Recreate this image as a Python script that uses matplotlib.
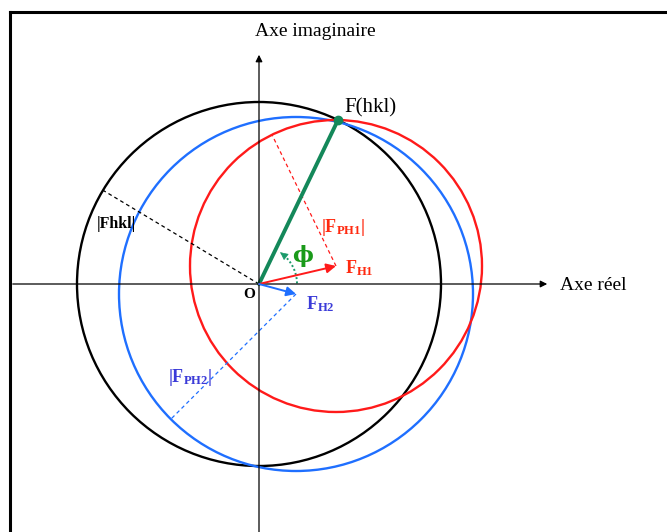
import matplotlib
matplotlib.use("Agg")
import matplotlib.pyplot as plt
from matplotlib.patches import Circle, FancyArrowPatch
import numpy as np

plt.rcParams['font.family'] = ['Liberation Serif', 'DejaVu Serif']
plt.rcParams['mathtext.fontset'] = 'custom'
plt.rcParams['mathtext.rm'] = 'Liberation Serif'
plt.rcParams['mathtext.bf'] = 'Liberation Serif:bold'

# vecteurs (coordonnees dans le plan complexe, origine O)
F_hkl = np.array([79, 164])
F_H1 = np.array([77, 18])
F_H2 = np.array([37, -10])

# rayons des cercles
r_Fhkl = 182
r_FPH1 = 146
r_FPH2 = 177

# angles (degres) des rayons en pointille
ang_Fhkl = 149
ang_FPH1 = 116
ang_FPH2 = 225

noir = 'black'
rouge = '#ff1a1a'
bleu = '#1f6fff'
vert = '#14885a'

fig = plt.figure(figsize=(6.67, 5.32), dpi=100)
ax = fig.add_axes([0, 0, 1, 1])
ax.set_xlim(-259, 408)
ax.set_ylim(-248, 284)
ax.set_aspect('equal')
ax.axis('off')

# cadre
ax.plot([-249, -249], [-260, 272], color='black', lw=2.2, solid_capstyle='projecting')
ax.plot([-249, 420], [272, 272], color='black', lw=2.2, solid_capstyle='projecting')

# axes
ax.annotate('', xy=(291, 0), xytext=(-249, 0),
            arrowprops=dict(arrowstyle='-|>', color='black', lw=0.9, mutation_scale=10))
ax.annotate('', xy=(0, 232), xytext=(0, -260),
            arrowprops=dict(arrowstyle='-|>', color='black', lw=0.9, mutation_scale=10))
ax.text(56, 252, 'Axe imaginaire', fontsize=14, ha='center', va='center')
ax.text(301, -1, 'Axe réel', fontsize=14, ha='left', va='center')

# cercles
ax.add_patch(Circle((0, 0), r_Fhkl, fill=False, color=noir, lw=1.7))
ax.add_patch(Circle(F_H2, r_FPH2, fill=False, color=bleu, lw=1.7))
ax.add_patch(Circle(F_H1, r_FPH1, fill=False, color=rouge, lw=1.7))

# rayons en pointille
def rayon(c, r, a, col):
    a = np.radians(a)
    ax.plot([c[0], c[0] + r * np.cos(a)], [c[1], c[1] + r * np.sin(a)],
            color=col, lw=0.9, ls=(0, (3, 2.5)))

rayon((0, 0), r_Fhkl, ang_Fhkl, noir)
rayon(F_H1, r_FPH1, ang_FPH1, rouge)
rayon(F_H2, r_FPH2, ang_FPH2, bleu)

# vecteurs F_H1, F_H2
for v, col in [(F_H1, rouge), (F_H2, bleu)]:
    ax.annotate('', xy=v, xytext=(0, 0),
                arrowprops=dict(arrowstyle='-|>', color=col, lw=1.4,
                                mutation_scale=14, shrinkA=0, shrinkB=0))

# F(hkl)
ax.plot([0, F_hkl[0]], [0, F_hkl[1]], color=vert, lw=2.8, solid_capstyle='round')
ax.plot(F_hkl[0], F_hkl[1], 'o', color=vert, ms=6)
ax.text(85, 176, 'F(hkl)', fontsize=15, ha='left', va='center')

# angle phi
phi = np.degrees(np.arctan2(F_hkl[1], F_hkl[0]))
t = np.radians(np.linspace(1, phi - 6, 60))
ax.plot(38 * np.cos(t[:-4]), 38 * np.sin(t[:-4]), color='#1a9a6a', lw=1.4, ls=(0, (1, 1.2)))
arr = FancyArrowPatch((38 * np.cos(t[-8]), 38 * np.sin(t[-8])),
                      (38 * np.cos(t[-1]) - 1, 38 * np.sin(t[-1]) + 1),
                      arrowstyle='-|>', mutation_scale=12, color='#1a9a6a', lw=0.5)
ax.add_patch(arr)
ax.text(44, 28, 'ϕ', fontsize=16, color='#1a9a1a', fontweight='bold',
        family='DejaVu Serif', ha='center', va='center')

# etiquettes
ax.text(-10, -11, 'O', fontsize=11, fontweight='bold', ha='center', va='center')
ax.text(-162, 60, '|Fhkl|', fontsize=11.5, fontweight='bold', ha='left', va='center')
ax.text(86, 16, r'$\mathbf{F_{H1}}$', fontsize=13, color='#ff2a10', ha='left', va='center')
ax.text(62, 56, r'$\mathbf{|F_{PH1}|}$', fontsize=13, color='#ff2a10', ha='left', va='center')
ax.text(47, -20, r'$\mathbf{F_{H2}}$', fontsize=13, color='#3b3bd8', ha='left', va='center')
ax.text(-91, -93, r'$\mathbf{|F_{PH2}|}$', fontsize=13, color='#3b3bd8', ha='left', va='center')

fig.savefig('out.png', dpi=100)
